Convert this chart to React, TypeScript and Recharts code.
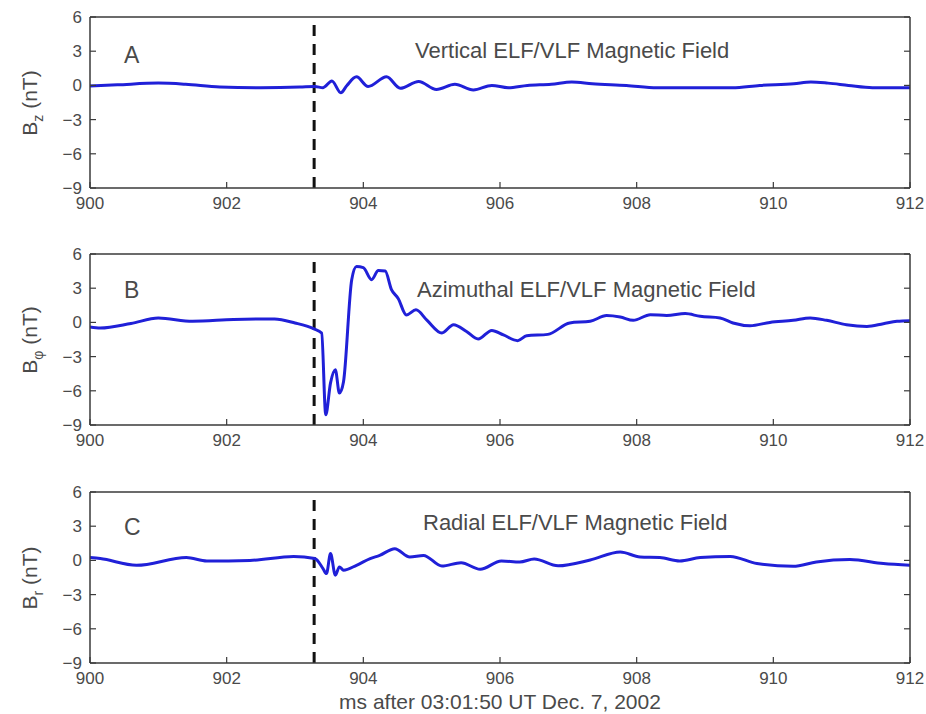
import { LineChart, Line, XAxis, YAxis, ReferenceLine } from 'recharts';

// x ticks in ms, y ticks in nT
const ticksX = [900, 902, 904, 906, 908, 910, 912];
const ticksY = [-9, -6, -3, 0, 3, 6];
const onsetMs = 903.28;

// A: vertical field
const timeA = [900, 900.4, 901.0, 901.4, 901.9, 902.5, 903.07, 903.29, 903.41, 903.54, 903.67, 903.76, 903.9, 904.07, 904.34, 904.54, 904.81, 905.07, 905.34, 905.61, 905.88, 906.12, 906.4, 906.75, 907.05, 907.35, 907.85, 908.3, 909.4, 909.8, 910.3, 910.55, 910.8, 911.1, 911.45, 912];
const bzA = [-0.05, 0.05, 0.2, 0.1, -0.15, -0.2, -0.15, -0.1, -0.2, 0.38, -0.65, 0.0, 0.75, -0.1, 0.75, -0.25, 0.35, -0.35, 0.1, -0.4, 0.0, -0.2, 0.0, 0.1, 0.3, 0.15, 0.0, -0.2, -0.2, 0.0, 0.15, 0.3, 0.2, 0.0, -0.2, -0.2];

// B: azimuthal field
const timeB = [900, 900.15, 900.6, 901.0, 901.5, 902.1, 902.7, 903.0, 903.27, 903.39, 903.45, 903.52, 903.59, 903.65, 903.71, 903.83, 903.9, 904.0, 904.12, 904.22, 904.32, 904.41, 904.51, 904.63, 904.77, 904.93, 905.15, 905.32, 905.51, 905.68, 905.88, 906.05, 906.26, 906.39, 906.7, 907.02, 907.32, 907.56, 907.76, 907.95, 908.2, 908.44, 908.71, 908.93, 909.22, 909.41, 909.66, 909.95, 910.29, 910.54, 910.78, 911.07, 911.37, 911.61, 911.81, 912];
const bphiB = [-0.4, -0.5, -0.1, 0.38, 0.1, 0.25, 0.3, -0.05, -0.55, -0.93, -8.1, -5.3, -4.15, -6.2, -5.2, 3.75, 4.9, 4.8, 3.75, 4.55, 4.5, 2.9, 2.1, 0.65, 1.1, 0.2, -0.93, -0.2, -0.8, -1.45, -0.7, -1.1, -1.6, -1.17, -1.05, -0.05, 0.1, 0.6, 0.47, 0.18, 0.68, 0.6, 0.77, 0.53, 0.39, -0.05, -0.29, 0.0, 0.18, 0.39, 0.18, -0.2, -0.35, -0.11, 0.1, 0.15];

// C: radial field
const timeC = [900, 900.15, 900.68, 901.41, 901.71, 902.34, 902.98, 903.29, 903.41, 903.46, 903.52, 903.59, 903.65, 903.71, 903.9, 904.1, 904.24, 904.46, 904.68, 904.88, 905.15, 905.43, 905.71, 906.02, 906.29, 906.5, 906.85, 907.32, 907.76, 908.05, 908.34, 908.63, 908.93, 909.37, 909.76, 910.29, 910.63, 911.12, 911.61, 912];
const brC = [0.25, 0.16, -0.43, 0.25, -0.05, 0.0, 0.35, 0.16, -0.72, -1.16, 0.6, -1.3, -0.57, -0.86, -0.43, 0.16, 0.44, 1.03, 0.3, 0.44, -0.5, -0.2, -0.78, -0.05, -0.14, 0.12, -0.48, 0.03, 0.74, 0.3, 0.25, -0.05, 0.25, 0.35, -0.28, -0.52, -0.14, 0.07, -0.28, -0.43];

const FONT = "'Liberation Sans', Arial, Helvetica, sans-serif";
const TEXT = '#4a4a4a';
const AXIS = '#3a3a3a';
const BLUE = '#2020d8';

const panels = [
  { top: 0, time: timeA, values: bzA, letter: 'A', title: 'Vertical ELF/VLF Magnetic Field', sub: 'z', titleX: 415, titleY: 58, letterY: 63 },
  { top: 237, time: timeB, values: bphiB, letter: 'B', title: 'Azimuthal ELF/VLF Magnetic Field', sub: 'φ', titleX: 417, titleY: 297, letterY: 298 },
  { top: 475, time: timeC, values: brC, letter: 'C', title: 'Radial ELF/VLF Magnetic Field', sub: 'r', titleX: 423, titleY: 530, letterY: 535 },
];

const fmtY = (v: number) => (v < 0 ? `\u2212${-v}` : `${v}`);
const noLabel = () => <g />;
const tickStroke = { stroke: AXIS, strokeWidth: 1.2 };
const boxStroke = { stroke: AXIS, strokeWidth: 1.5 };

function Panel({ time, values }: { time: number[]; values: number[] }) {
  const data = time.map((t, i) => ({ t, v: values[i] }));
  return (
    <LineChart width={926} height={237} data={data} margin={{ top: 17, right: 16, left: 30, bottom: 19 }}>
      {/* bottom axis: negative tickSize turns the marks inward */}
      <XAxis
        xAxisId="b"
        dataKey="t"
        type="number"
        domain={[900, 912]}
        allowDataOverflow
        ticks={ticksX}
        interval={0}
        height={30}
        tickSize={-6}
        tickMargin={15}
        tickLine={tickStroke}
        axisLine={boxStroke}
        tick={{ fill: TEXT, fontSize: 17, fontFamily: FONT }}
      />
      <XAxis xAxisId="t" orientation="top" type="number" domain={[900, 912]} allowDataOverflow ticks={ticksX} interval={0}
        mirror tick={noLabel} axisLine={boxStroke} tickSize={6} tickLine={tickStroke} />
      <YAxis
        yAxisId="l"
        type="number"
        domain={[-9, 6]}
        allowDataOverflow
        ticks={ticksY}
        interval={0}
        width={60}
        tickSize={-6}
        tickMargin={14}
        tickLine={tickStroke}
        tickFormatter={fmtY}
        axisLine={boxStroke}
        tick={{ fill: TEXT, fontSize: 17, fontFamily: FONT }}
      />
      <YAxis yAxisId="r" orientation="right" type="number" domain={[-9, 6]} allowDataOverflow ticks={ticksY} interval={0}
        mirror tick={noLabel} axisLine={boxStroke} tickSize={6} tickLine={tickStroke} />
      <ReferenceLine xAxisId="b" yAxisId="l" x={onsetMs} stroke="#111" strokeWidth={3} strokeDasharray="11 8" />
      <Line
        xAxisId="b"
        yAxisId="l"
        type="monotone"
        dataKey="v"
        stroke={BLUE}
        strokeWidth={3}
        dot={false}
        isAnimationActive={false}
      />
    </LineChart>
  );
}

export default function App() {
  return (
    <div style={{ position: 'absolute', left: 0, top: 0, width: 926, height: 714, background: '#fff', overflow: 'hidden' }}>
      {panels.map((p) => (
        <div key={p.letter} style={{ position: 'absolute', left: 0, top: p.top }}>
          <Panel time={p.time} values={p.values} />
        </div>
      ))}
      <svg width={926} height={714} style={{ position: 'absolute', left: 0, top: 0, pointerEvents: 'none' }}>
        {panels.map((p) => (
          <g key={p.letter} fontFamily={FONT} fill={TEXT}>
            <text x={124} y={p.letterY} fontSize={23}>{p.letter}</text>
            <text x={p.titleX} y={p.titleY} fontSize={22}>{p.title}</text>
            <text transform={`translate(37,${p.top + 103}) rotate(-90)`} textAnchor="middle" fontSize={21}>
              B<tspan dy={6} fontSize={14}>{p.sub}</tspan>
              <tspan dy={-6}> (nT)</tspan>
            </text>
          </g>
        ))}
        <text x={500} y={709} textAnchor="middle" fontFamily={FONT} fontSize={21} fill={TEXT}>
          ms after 03:01:50 UT Dec. 7, 2002
        </text>
      </svg>
    </div>
  );
}
